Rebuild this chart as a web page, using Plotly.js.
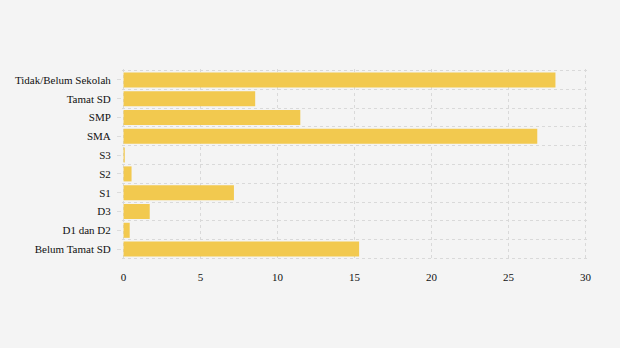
<!DOCTYPE html>
<html>
<head>
<meta charset="utf-8">
<script src="https://cdn.plot.ly/plotly-3.0.1.min.js"></script>
<style>html,body{margin:0;padding:0;background:#f4f4f4;}#chart{width:620px;height:348px;}</style>
</head>
<body>
<div id="chart"></div>
<script>
var categories = ["Belum Tamat SD", "D1 dan D2", "D3", "S1", "S2", "S3", "SMA", "SMP", "Tamat SD", "Tidak/Belum Sekolah"];
var values = [15.3, 0.4, 1.7, 7.17, 0.52, 0.08, 26.87, 11.48, 8.55, 28.05];
var xTicks = [0, 5, 10, 15, 20, 25, 30];

// category boundaries (between rows and at both edges), in category-index units
var boundaries = categories.map(function (c, i) { return i - 0.5; }).concat([categories.length - 0.5]);
var yRange = [-0.58, categories.length - 0.42];

var gridColor = "#d9d9d9";
var traces = [
  {
    type: "bar", orientation: "h", y: categories, x: values,
    marker: {color: "#f2c94f"}, hoverinfo: "x+y"
  },
  {
    type: "scatter", mode: "none", x: [0], y: [0], yaxis: "y2",
    hoverinfo: "skip", showlegend: false
  }
];
var layout = {
  width: 620, height: 348,
  paper_bgcolor: "#f4f4f4", plot_bgcolor: "#f4f4f4",
  margin: {l: 122, r: 33, t: 69, b: 88},
  showlegend: false, bargap: 0.2, barmode: "overlay",
  font: {family: "Liberation Serif", size: 11, color: "#111"},
  xaxis: {
    range: [-0.1, 30.1], tickvals: xTicks, showgrid: true, gridcolor: gridColor,
    griddash: "3px,3px", gridwidth: 1, zeroline: false, showline: false, ticks: "",
    ticklabelstandoff: 9, fixedrange: true
  },
  yaxis: {
    type: "category", categoryarray: categories, categoryorder: "array",
    range: yRange,
    showgrid: false, zeroline: false, showline: false,
    ticks: "outside", ticklen: 4, tickcolor: "#dcdcdc", ticklabelstandoff: 4,
    fixedrange: true
  },
  yaxis2: {
    type: "linear", overlaying: "y", side: "left", range: yRange,
    tickmode: "array", tickvals: boundaries, showgrid: true,
    gridcolor: gridColor, griddash: "3px,3px", gridwidth: 1,
    showticklabels: false, ticks: "", zeroline: false, showline: false, fixedrange: true
  }
};
Plotly.newPlot("chart", traces, layout, {displayModeBar: false, staticPlot: true});
</script>
</body>
</html>
